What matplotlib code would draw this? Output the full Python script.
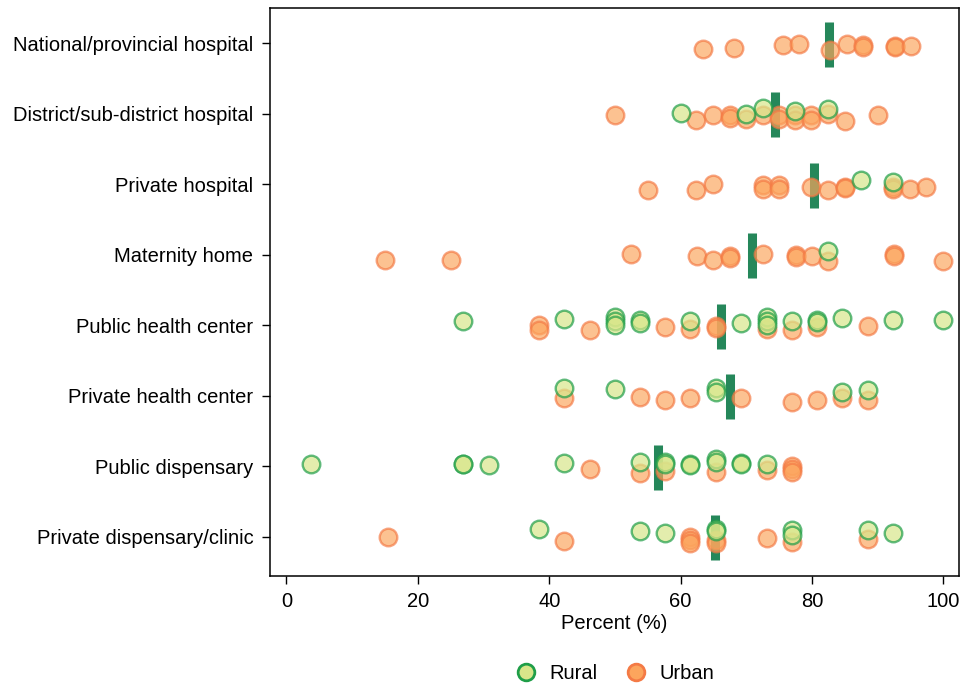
import numpy as np
import matplotlib
matplotlib.use("Agg")
import matplotlib.pyplot as plt
from matplotlib.lines import Line2D

plt.rcParams['font.family'] = ['Liberation Sans', 'DejaVu Sans']

# ---------- data ----------
categories = [
    "National/provincial hospital",
    "District/sub-district hospital",
    "Private hospital",
    "Maternity home",
    "Public health center",
    "Private health center",
    "Public dispensary",
    "Private dispensary/clinic",
]

# overall value shown as a vertical bar per facility type
overall = [82.6, 74.3, 80.3, 70.8, 66.2, 67.5, 56.6, 65.2]

# rural percentages per facility type, with vertical jitter (category units)
rural_vals = [
    [],
    [60.0, 69.9, 72.5, 77.4, 82.4],
    [87.4, 92.4],
    [82.4],
    [26.9, 42.3, 50.0, 50.0, 50.0, 53.8, 53.8, 61.5, 69.2, 73.1, 73.1, 73.1,
     76.9, 80.8, 80.8, 84.6, 92.3, 100.0],
    [42.3, 50.0, 65.4, 65.4, 84.6, 88.5],
    [3.8, 26.9, 26.9, 30.8, 42.3, 53.8, 57.7, 57.7, 61.5, 61.5, 65.4, 65.4,
     69.2, 69.2, 73.1],
    [38.5, 53.8, 57.7, 65.4, 65.4, 76.9, 76.9, 88.5, 92.3],
]
rural_jit = [
    [],
    [-0.01, 0.0, -0.08, -0.04, -0.07],
    [-0.07, -0.04],
    [-0.06],
    [-0.07, -0.09, -0.12, -0.07, -0.01, -0.08, -0.04, -0.07, -0.04, -0.12, -0.07, -0.01,
     -0.07, -0.08, -0.05, -0.10, -0.08, -0.08],
    [-0.11, -0.10, -0.11, -0.06, -0.06, -0.09],
    [-0.03, -0.03, -0.03, -0.02, -0.05, -0.06, -0.06, -0.03, -0.03, -0.02, -0.11, -0.06,
     -0.05, -0.04, -0.04],
    [-0.11, -0.09, -0.05, -0.12, -0.08, -0.10, -0.03, -0.10, -0.06],
]

# urban percentages per facility type, with vertical jitter
urban_vals = [
    [63.4, 68.2, 75.6, 78.0, 82.8, 85.4, 87.8, 87.8, 92.6, 92.6, 95.1],
    [50.0, 62.4, 64.9, 67.5, 67.5, 69.9, 72.5, 75.0, 75.0, 77.4, 77.4, 79.9, 79.9,
     82.4, 85.0, 90.0],
    [55.0, 62.4, 64.9, 72.5, 72.5, 75.0, 75.0, 79.9, 82.4, 85.0, 85.0, 92.4, 92.4,
     94.9, 97.4],
    [15.0, 25.0, 52.5, 62.5, 65.0, 67.5, 67.5, 72.5, 77.5, 77.5, 80.0, 82.5, 92.5,
     92.5, 100.0],
    [38.5, 38.5, 46.2, 57.7, 61.5, 65.4, 65.4, 73.1, 76.9, 80.8, 88.5],
    [42.3, 53.8, 57.7, 61.5, 69.2, 76.9, 80.8, 84.6, 88.5],
    [46.2, 53.8, 57.7, 65.4, 73.1, 76.9, 76.9, 76.9],
    [15.4, 42.3, 61.5, 61.5, 61.5, 65.4, 65.4, 73.1, 76.9, 88.5],
]
urban_jit = [
    [0.08, 0.06, 0.02, 0.01, 0.09, 0.01, 0.02, 0.05, 0.04, 0.05, 0.03],
    [0.02, 0.08, 0.01, 0.01, 0.06, 0.07, 0.01, 0.01, 0.07, 0.01, 0.08, 0.01, 0.08,
     0.0, 0.10, 0.01],
    [0.08, 0.08, 0.0, 0.01, 0.06, 0.01, 0.06, 0.03, 0.08, 0.03, 0.05, 0.03, 0.06,
     0.07, 0.04],
    [0.07, 0.07, -0.01, 0.02, 0.07, 0.02, 0.04, -0.01, 0.0, 0.03, 0.02, 0.08, -0.01,
     0.02, 0.08],
    [0.0, 0.07, 0.07, 0.02, 0.05, 0.01, 0.03, 0.05, 0.07, 0.02, 0.01],
    [0.03, 0.02, 0.06, 0.03, 0.03, 0.08, 0.05, 0.03, 0.05],
    [0.04, 0.09, 0.07, 0.08, 0.05, 0.0, 0.03, 0.08],
    [0.0, 0.05, 0.0, 0.04, 0.09, 0.04, 0.09, 0.02, 0.07, 0.03],
]

rural_face, rural_edge = '#d8e68a', '#1f9e48'
urban_face, urban_edge = '#fca55d', '#f47a45'
bar_color = '#25875a'

# ---------- plot ----------
fig = plt.figure(figsize=(9.61, 6.83), dpi=100)
ax = fig.add_axes([0.281, 0.157, 0.717, 0.831])

ypos = np.arange(len(categories))
fs = 14.5

# overall bars first, points drawn over them
for i, v in enumerate(overall):
    ax.plot([v, v], [i - 0.31, i + 0.33], color=bar_color, lw=6.5,
            solid_capstyle='butt', zorder=2)

for i in range(len(categories)):
    if urban_vals[i]:
        ax.scatter(urban_vals[i], ypos[i] + np.array(urban_jit[i]), s=160,
                   facecolor=urban_face, edgecolor=urban_edge, linewidth=1.7,
                   alpha=0.68, zorder=3)
for i in range(len(categories)):
    if rural_vals[i]:
        ax.scatter(rural_vals[i], ypos[i] + np.array(rural_jit[i]), s=160,
                   facecolor=rural_face, edgecolor=rural_edge, linewidth=1.7,
                   alpha=0.7, zorder=4)

ax.set_xlim(-2.5, 102.4)
ax.set_ylim(len(categories) - 0.45, -0.5)
ax.set_yticks(ypos)
ax.set_yticklabels(categories, fontsize=fs)
ax.set_xticks([0, 20, 40, 60, 80, 100])
ax.tick_params(axis='x', labelsize=fs, length=6, width=1, pad=6)
ax.tick_params(axis='y', length=6, width=1, pad=6)
ax.set_xlabel('Percent (%)', fontsize=fs, labelpad=2)
for sp in ax.spines.values():
    sp.set_linewidth(1.1)

handles = [
    Line2D([], [], marker='o', ls='none', markersize=12, markerfacecolor=rural_face,
           markeredgecolor=rural_edge, markeredgewidth=2, label='Rural'),
    Line2D([], [], marker='o', ls='none', markersize=12, markerfacecolor=urban_face,
           markeredgecolor=urban_edge, markeredgewidth=2, label='Urban'),
]
fig.legend(handles=handles, loc='lower center', bbox_to_anchor=(0.637, -0.027),
           ncol=2, frameon=False, fontsize=fs, handletextpad=0.35,
           columnspacing=1.1, handlelength=1.6)

fig.savefig('out.png', dpi=100)
